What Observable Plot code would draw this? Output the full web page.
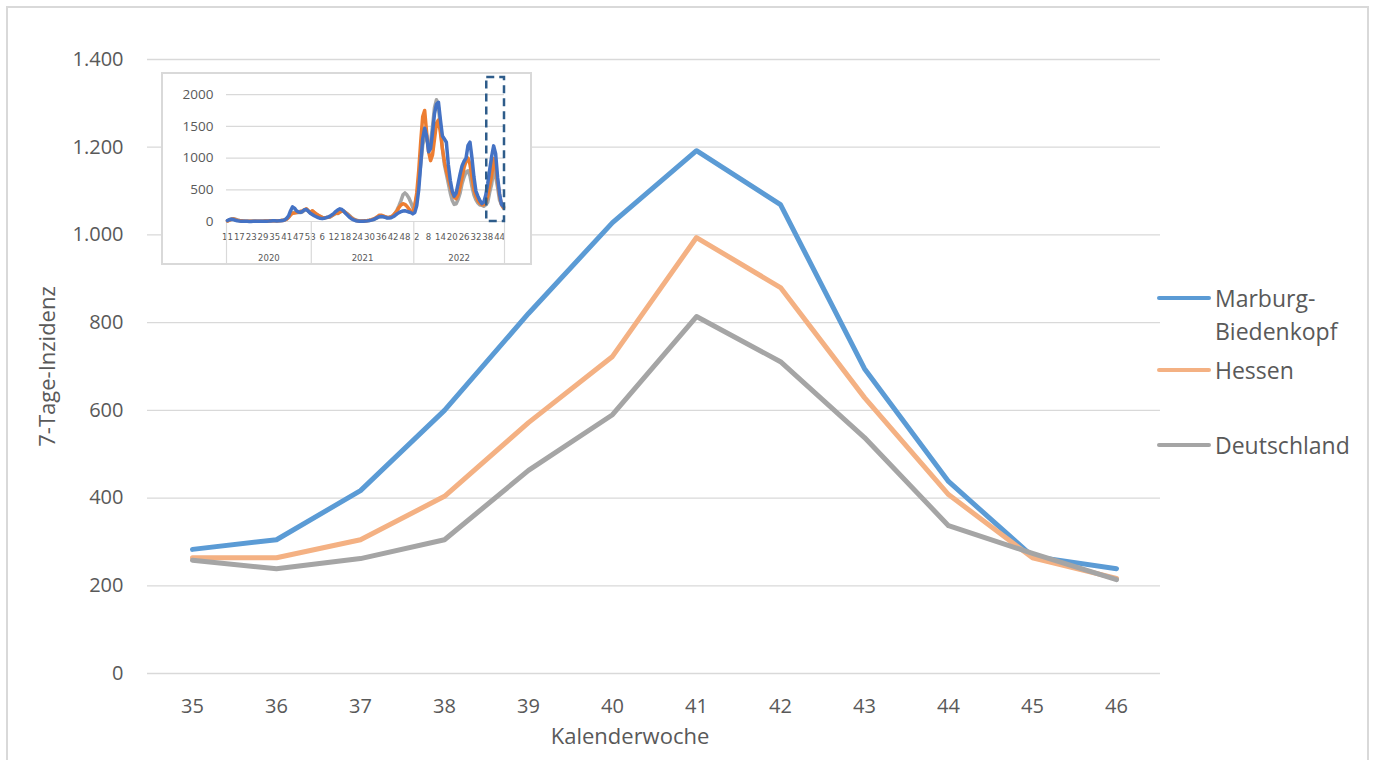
<!DOCTYPE html>
<html><head><meta charset="utf-8">
<script src="https://cdn.jsdelivr.net/npm/d3@7"></script>
<script src="https://cdn.jsdelivr.net/npm/@observablehq/plot@0.6"></script>
<style>
html,body{margin:0;padding:0;background:#fff;overflow:hidden;}
#wrap{position:relative;width:1375px;height:760px;font-family:"Open Sans",sans-serif;color:#595959;overflow:hidden;}
#frame{position:absolute;left:6px;top:6px;width:1363px;height:820px;border:2px solid #d9d9d9;box-sizing:border-box;}
#main{position:absolute;left:0;top:0;}
#inset{position:absolute;left:162px;top:73px;width:369px;height:191px;background:#fff;outline:2px solid #d9d9d9;outline-offset:-1px;}
.lgline{position:absolute;left:1157px;width:54px;height:4px;border-radius:2px;}
.lgtext{position:absolute;left:1215px;font-size:23px;line-height:33px;color:#595959;white-space:nowrap;}
</style></head>
<body><div id="wrap"><div id="frame"></div><div id="main"></div><div id="inset"></div><div id="legend"></div></div>
<script>
// ---------- main chart data (Kalenderwoche 35–46, 2022) ----------
const weeks = ["35","36","37","38","39","40","41","42","43","44","45","46"];
const marburg = [283,305,417,600,821,1028,1192,1069,695,438,267,239];
const hessen = [264,264,305,404,572,723,994,880,629,408,264,217];
const deutschland = [258,239,262,305,463,590,814,711,538,337,274,214];
const yTicks = [0,200,400,600,800,1000,1200,1400];
const seriesNames = ["Marburg-Biedenkopf","Hessen","Deutschland"];
const legendLabels = [["Marburg-","Biedenkopf"],["Hessen"],["Deutschland"]];
const mainColors = ["#5B9BD5","#F4B183","#A5A5A5"];
const xTitle = "Kalenderwoche";
const yTitle = "7-Tage-Inzidenz";

// ---------- inset data (2020 KW11 – 2022 KW46) ----------
const insetYears = ["2020","2021","2022"];
const insetFirstWeek = [11,1,1];
const insetLastWeek = [53,52,46];
const marburg2020 = [15,30,35,30,20,12,8,5,3,2,2,1,1,2,3,3,2,2,3,4,5,6,8,10,10,9,10,12,15,25,50,90,170,230,210,170,150,145,160,185,190,160,130];
const marburg2021 = [110,90,75,60,50,45,50,60,70,85,105,130,160,185,200,190,160,125,95,65,40,25,12,6,4,3,4,6,10,15,22,30,45,60,75,80,75,65,55,55,60,75,95,120,140,155,165,170,160,150,140,120];
const marburg2022a = [140,250,500,900,1300,1470,1350,1100,1150,1400,1700,1850,1880,1600,1350,1300,1250,900,650,480,400,450,600,750,880,950,1000,1200,1250,1000,700,480,400,330];
const hessen2020 = [8,20,35,40,30,22,15,10,7,5,4,3,3,4,5,5,4,4,5,6,7,9,11,13,12,11,12,14,17,24,38,65,105,130,135,140,150,160,165,185,200,170,140];
const hessen2021 = [170,145,120,100,80,65,60,62,68,75,95,115,135,130,150,165,160,135,110,80,55,35,20,12,8,6,7,10,15,22,30,40,55,75,100,100,90,75,65,68,75,95,130,170,220,260,280,270,240,200,160,140];
const hessen2022a = [250,450,800,1250,1650,1750,1400,1100,960,1050,1300,1550,1600,1400,1150,950,800,680,560,450,380,360,420,550,700,850,950,1000,900,700,500,400,330,290];
const deutschland2020 = [10,25,40,45,35,25,17,11,8,6,5,4,3,4,6,5,4,4,5,6,7,9,11,13,12,11,13,15,18,25,40,70,110,140,140,140,140,140,150,175,195,165,140];
const deutschland2021 = [165,140,120,100,80,65,60,62,65,70,90,110,130,125,145,165,165,140,120,90,60,40,25,15,9,6,6,8,12,17,22,30,45,60,75,80,80,70,62,65,70,90,130,180,250,330,420,450,420,370,300,220];
const deutschland2022a = [250,400,600,900,1200,1350,1300,1200,1250,1500,1800,1920,1800,1500,1150,900,750,600,450,330,270,280,350,450,600,700,780,800,720,550,420,340,290,260];
const insetYTicks = [0,500,1000,1500,2000];
const insetColors = {"Deutschland":"#A5A5A5","Hessen":"#ED7D31","Marburg-Biedenkopf":"#4472C4"};
const highlightFrom = {year:"2022", week:38};
const highlightTo = {year:"2022", week:46};

// ---------- build main ----------
const fmt = d3.formatLocale({decimal:",",thousands:".",grouping:[3],currency:["","€"]}).format(",");
const mainSeries = [marburg, hessen, deutschland];
const mainRows = seriesNames.map((n,si)=>weeks.map((w,i)=>({series:n, week:w, value:mainSeries[si][i]})));

const mainPlot = Plot.plot({
  width:1375, height:760, marginLeft:147, marginRight:215, marginTop:59, marginBottom:87,
  style:{fontFamily:'"Open Sans", sans-serif', fontSize:"20px", color:"#595959", background:"transparent"},
  x:{type:"point", domain:weeks, padding:0.5},
  y:{domain:[0,1400]},
  marks:[
    Plot.ruleY(yTicks,{stroke:"#d9d9d9", strokeWidth:1.3}),
    Plot.axisY(yTicks,{tickSize:0, tickPadding:24, tickFormat:fmt, label:null}),
    Plot.axisX({tickSize:0, tickPadding:25, label:null}),
    Plot.text([yTitle],{frameAnchor:"left", textAnchor:"middle", lineAnchor:"middle", dx:-100, rotate:-90, fontSize:22, fill:"#595959"}),
    Plot.text([xTitle],{frameAnchor:"bottom", textAnchor:"middle", lineAnchor:"middle", dx:-24, dy:63, fontSize:22, fill:"#595959"}),
    ...mainRows.map((rows,si)=>Plot.line(rows,{x:"week", y:"value", stroke:mainColors[si], strokeWidth:5, strokeLinejoin:"round", strokeLinecap:"round"}))
  ]
});
document.getElementById("main").appendChild(mainPlot);

// ---------- build inset ----------
const insetWeeks = [];
insetYears.forEach((y,yi)=>{ for(let w=insetFirstWeek[yi]; w<=insetLastWeek[yi]; w++) insetWeeks.push({year:y, week:w}); });
const n = insetWeeks.length;
const insetValues = {
  "Deutschland":[...deutschland2020,...deutschland2021,...deutschland2022a,...deutschland],
  "Hessen":[...hessen2020,...hessen2021,...hessen2022a,...hessen],
  "Marburg-Biedenkopf":[...marburg2020,...marburg2021,...marburg2022a,...marburg]
};
const idxOf = (y,w)=>insetWeeks.findIndex(d=>d.year===y && d.week===w);
const tickIdx = d3.range(0,n,6);
const groups = insetYears.map(y=>{
  const ids = insetWeeks.map((d,i)=>d.year===y?i:-1).filter(i=>i>=0);
  return {year:y, start:ids[0]-0.5, end:ids[ids.length-1]+0.5, mid:(ids[0]+ids[ids.length-1])/2};
});
const separators = [groups[0].start, ...groups.map(g=>g.end)];
const narrow = '"Liberation Sans Narrow","DejaVu Sans Condensed",sans-serif';
const hl = {x1: idxOf(highlightFrom.year, highlightFrom.week)-0.5, x2: idxOf(highlightTo.year, highlightTo.week)+0.5};

const insetPlot = Plot.plot({
  width:369, height:191, marginLeft:64, marginRight:27, marginTop:4, marginBottom:43,
  style:{fontFamily:'"Open Sans", sans-serif', fontSize:"13.5px", color:"#595959", background:"transparent", overflow:"visible"},
  x:{domain:[-0.5, n-0.5]},
  y:{domain:[0,2270]},
  marks:[
    Plot.ruleY(insetYTicks,{stroke:"#d9d9d9", strokeWidth:1.2}),
    Plot.axisY(insetYTicks,{tickSize:0, tickPadding:13, tickFormat:d=>String(d), label:null}),
    Plot.axisX(tickIdx,{tickSize:0, tickPadding:12, tickFormat:i=>String(insetWeeks[i].week), fontFamily:narrow, fontSize:9.5, label:null}),
    Plot.ruleX(separators,{y1:0, y2:0, insetBottom:-43, stroke:"#d9d9d9", strokeWidth:1.2}),
    Plot.text(groups,{x:"mid", y:0, dy:36, text:"year", fontFamily:narrow, fontSize:9.5, fill:"#595959"}),
    ...["Deutschland","Hessen","Marburg-Biedenkopf"].map(s=>Plot.line(insetValues[s].map((v,i)=>({i,v})),{x:"i", y:"v", stroke:insetColors[s], strokeWidth:3.5, strokeLinejoin:"round"})),
    Plot.rect([hl],{x1:"x1", x2:"x2", y1:0, y2:2270, fill:"none", stroke:"#2E5C8A", strokeWidth:2.5, strokeDasharray:"8,5"})
  ]
});
document.getElementById("inset").appendChild(insetPlot);

// ---------- legend ----------
const legendY = [298,370,445];
const lg = document.getElementById("legend");
seriesNames.forEach((s,i)=>{
  const l = document.createElement("div"); l.className="lgline";
  l.style.top=(legendY[i]-2)+"px"; l.style.background=mainColors[i]; lg.appendChild(l);
  const t = document.createElement("div"); t.className="lgtext";
  t.style.top=(legendY[i]-16.5)+"px"; t.innerHTML=legendLabels[i].join("<br>"); lg.appendChild(t);
});
</script></body></html>
